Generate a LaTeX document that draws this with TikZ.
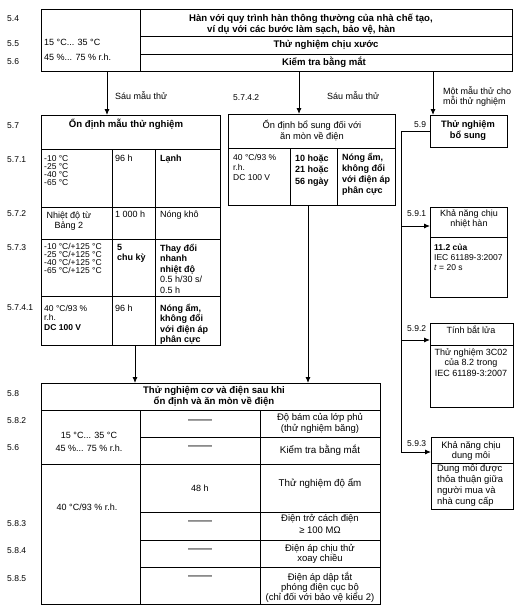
\documentclass[tikz,border=0pt]{standalone}
\usepackage{fontspec}
\setmainfont{Liberation Sans}
\usetikzlibrary{arrows.meta}
\newcommand\myfs[2]{\fontsize{#1}{#2}\selectfont}
\begin{document}
\begin{tikzpicture}[x=1pt,y=-1pt,
  box/.style={draw, line width=1pt, inner sep=0pt, outer sep=0pt, anchor=north west},
  ln/.style={line width=0.9pt},
  arr/.style={line width=0.9pt, -{Latex[length=6pt,width=5pt]}},
  lbl/.style={anchor=base west, inner sep=0pt, font=\myfs{8.5}{10}},
  tl/.style={anchor=base west, inner sep=0pt, align=left, font=\myfs{9}{10.5}},
  tc/.style={anchor=base, inner sep=0pt, align=center, font=\myfs{9}{10.5}},
  hd/.style={anchor=base, inner sep=0pt, align=center, font=\myfs{9.6}{10.5}\bfseries},
  dsh/.style={anchor=center, inner sep=0pt, font=\myfs{12}{12}},
]
\useasboundingbox (0,0) rectangle (522,610);

% ---------- boxes ----------
\node[box, minimum width=471pt, minimum height=61pt] (top) at (41,10) {};
\node[box, minimum width=179pt, minimum height=230pt] (b57) at (41,115) {};
\node[box, minimum width=167pt, minimum height=91pt] (b5742) at (228,114) {};
\node[box, minimum width=77pt, minimum height=32pt] (b59) at (430,115) {};
\node[box, minimum width=77pt, minimum height=90pt] (b591) at (430,207) {};
\node[box, minimum width=83pt, minimum height=84pt] (b592) at (430,323) {};
\node[box, minimum width=82pt, minimum height=72pt] (b593) at (431,437) {};
\node[box, minimum width=339pt, minimum height=221pt] (b58) at (41,383) {};

% ---------- cell dividers ----------
\draw[ln] (140,10) -- (140,71);
\draw[ln] (140,36) -- (512,36);
\draw[ln] (140,54) -- (512,54);

\draw[ln] (41,149) -- (220,149);
\draw[ln] (112,149) -- (112,345);
\draw[ln] (155,149) -- (155,345);
\draw[ln] (41,207) -- (220,207);
\draw[ln] (41,239) -- (220,239);
\draw[ln] (41,296) -- (220,296);

\draw[ln] (228,148) -- (395,148);
\draw[ln] (290,148) -- (290,205);
\draw[ln] (337,148) -- (337,205);

\draw[ln] (430,237) -- (507,237);
\draw[ln] (430,345) -- (513,345);
\draw[ln] (431,463) -- (513,463);

\draw[ln] (41,410) -- (380,410);
\draw[ln] (140,410) -- (140,604);
\draw[ln] (260,410) -- (260,604);
\draw[ln] (140,437) -- (380,437);
\draw[ln] (41,464) -- (380,464);
\draw[ln] (140,512) -- (380,512);
\draw[ln] (140,540) -- (380,540);
\draw[ln] (140,567) -- (380,567);

% ---------- connectors ----------
\coordinate (a1) at (107,71);
\coordinate (a2) at (299,71);
\coordinate (a3) at (433,71);
\coordinate (a4) at (135,345);
\coordinate (a5) at (308,205);
\draw[arr] (a1) -- (a1 |- b57.north);
\draw[arr] (a2) -- (a2 |- b5742.north);
\draw[arr] (a3) -- (a3 |- b59.north);
\draw[arr] (a4) -- (a4 |- b58.north);
\draw[arr] (a5) -- (a5 |- b58.north);

\coordinate (v) at (401,131);
\coordinate (c1) at (401,226);
\coordinate (c2) at (401,340);
\coordinate (c3) at (401,452);
\draw[arr] (b59.west) -- (v) -- (c3) -- (c3 -| b593.west);
\draw[arr] (c1) -- (c1 -| b591.west);
\draw[arr] (c2) -- (c2 -| b592.west);

% ---------- side labels ----------
\node[lbl] (l54) at (7,22) {5.4};
\node[lbl] (l55) at (7,47) {5.5};
\node[lbl] (l56) at (7,65) {5.6};
\node[lbl] (l57) at (7,128) {5.7};
\node[lbl] (l571) at (7,162) {5.7.1};
\node[lbl] (l572) at (7,216) {5.7.2};
\node[lbl] (l573) at (7,250) {5.7.3};
\node[lbl] (l5741) at (7,310) {5.7.4.1};
\node[lbl] (l58) at (7,396) {5.8};
\node[lbl] (l582) at (7,423) {5.8.2};
\node[lbl] (l56b) at (7,450) {5.6};
\node[lbl] (l583) at (7,526) {5.8.3};
\node[lbl] (l584) at (7,553) {5.8.4};
\node[lbl] (l585) at (7,581) {5.8.5};
\node[lbl] (l5742) at (233,100) {5.7.4.2};
\node[lbl] (l59) at (414,127) {5.9};
\node[lbl] (l591) at (407,216) {5.9.1};
\node[lbl] (l592) at (407,331) {5.9.2};
\node[lbl] (l593) at (407,446) {5.9.3};

% ---------- arrow labels ----------
\node[tl] (s1) at (115,99) {Sáu mẫu thử};
\node[tl] (s2) at (327,99) {Sáu mẫu thử};
\node[tl] (s3) at (443,104.5) {Một mẫu thử cho\\mỗi thử nghiệm};

% ---------- top box ----------
\node[hd, anchor=base west, align=left] (h1) at (189,32.5) {Hàn với quy trình hàn thông thường của nhà chế tạo,\\\hspace*{18pt}ví dụ với các bước làm sạch, bảo vệ, hàn};
\node[hd] (h2) at (326,48) {Thử nghiệm chịu xước};
\node[hd] (h3) at (324,66) {Kiểm tra bằng mắt};
\node[tl] (e1) at (44,46) {15 °C... 35 °C};
\node[tl] (e2) at (44,60) {45 \%... 75 \% r.h.};

% ---------- 5.7 ----------
\node[hd] (h57) at (126,127) {Ổn định mẫu thử nghiệm};
\node[tl, font=\myfs{8.5}{8.2}] (t571a) at (44,185.6) {-10 °C\\-25 °C\\-40 °C\\-65 °C};
\node[tl] (t571b) at (115,161) {96 h};
\node[tl, font=\myfs{9}{10.5}\bfseries] (t571c) at (160,161) {Lạnh};
\node[tc] (t572a) at (69,228.5) {Nhiệt độ từ\\Bảng 2};
\node[tl] (t572b) at (115,217) {1 000 h};
\node[tl] (t572c) at (160,217) {Nóng khô};
\node[tl, font=\myfs{8.5}{8.2}] (t573a) at (44,273.6) {-10 °C/+125 °C\\-25 °C/+125 °C\\-40 °C/+125 °C\\-65 °C/+125 °C};
\node[tl, font=\myfs{9}{10}\bfseries] (t573b) at (117,260) {5\\chu kỳ};
\node[tl] (t573c) at (160,293) {\textbf{Thay đổi}\\\textbf{nhanh}\\\textbf{nhiệt độ}\\0.5 h/30 s/\\0.5 h};
\node[tl, font=\myfs{8.5}{9.5}] (t5741a) at (44,330) {40 °C/93 \%\\r.h.\\\textbf{DC 100 V}};
\node[tl] (t5741b) at (115,311) {96 h};
\node[tl, font=\myfs{9}{10.5}\bfseries] (t5741c) at (160,342.5) {Nóng ẩm,\\không đổi\\với điện áp\\phân cực};

% ---------- 5.7.4.2 ----------
\node[tc, font=\myfs{9.3}{11}] (h5742) at (312,139) {Ổn định bổ sung đối với\\ăn mòn về điện};
\node[tl, font=\myfs{8.5}{10}] (t5742a) at (233,180) {40 °C/93 \%\\r.h.\\DC 100 V};
\node[tl, font=\myfs{9}{11.5}\bfseries] (t5742b) at (295,184) {10 hoặc\\21 hoặc\\56 ngày};
\node[tl, font=\myfs{9}{11.3}\bfseries] (t5742c) at (342,193.9) {Nóng ẩm,\\không đổi\\với điện áp\\phân cực};

% ---------- 5.9 ----------
\node[hd, font=\myfs{9.3}{11}\bfseries] (h59) at (468,138) {Thử nghiệm\\bổ sung};
\node[tc] (h591) at (469,226.5) {Khả năng chịu\\nhiệt hàn};
\node[tl, font=\myfs{8.5}{10}] (t591) at (434,270) {\textbf{11.2 của}\\IEC 61189-3:2007\\\textit{t} = 20 s};
\node[tc] (h592) at (471,333) {Tính bắt lửa};
\node[tc, font=\myfs{9}{10.5}] (t592) at (471,376) {Thử nghiệm 3C02\\của 8.2 trong\\IEC 61189-3:2007};
\node[tc, font=\myfs{9.3}{10}] (h593) at (471,458) {Khả năng chịu\\dung môi};
\node[tl, font=\myfs{9.4}{11}] (t593) at (437,504) {Dung môi được\\thỏa thuận giữa\\người mua và\\nhà cung cấp};

% ---------- 5.8 ----------
\node[hd, font=\myfs{9.6}{11.5}\bfseries] (h58) at (214,404.5) {Thử nghiệm cơ và điện sau khi\\ổn định và ăn mòn về điện};
\node[tc, font=\myfs{9}{13}] (t58a) at (89,451) {15 °C... 35 °C\\45 \%... 75 \% r.h.};
\node[tc] (t58b) at (87,510) {40 °C/93 \% r.h.};
\node[dsh] (d1) at (200,422) {——};
\node[dsh] (d2) at (200,448) {——};
\node[tc] (t48) at (200,491) {48 h};
\node[dsh] (d3) at (200,523) {——};
\node[dsh] (d4) at (200,551) {——};
\node[dsh] (d5) at (200,578) {——};
\node[tc, font=\myfs{9.5}{11}] (r1) at (320,431) {Độ bám của lớp phủ\\(thử nghiệm băng)};
\node[tc, font=\myfs{9.8}{10.5}] (r2) at (320,453) {Kiểm tra bằng mắt};
\node[tc, font=\myfs{9.8}{10.5}] (r3) at (320,486) {Thử nghiệm độ ẩm};
\node[tc, font=\myfs{9.5}{12}] (r4) at (320,533) {Điện trở cách điện\\≥ 100 MΩ};
\node[tc, font=\myfs{9.5}{10.5}] (r5) at (320,561.5) {Điện áp chịu thử\\xoay chiều};
\node[tc, font=\myfs{9.5}{10}] (r6) at (320,600) {Điện áp dập tắt\\phóng điện cục bộ\\(chỉ đối với bảo vệ kiểu 2)};
\end{tikzpicture}
\end{document}
